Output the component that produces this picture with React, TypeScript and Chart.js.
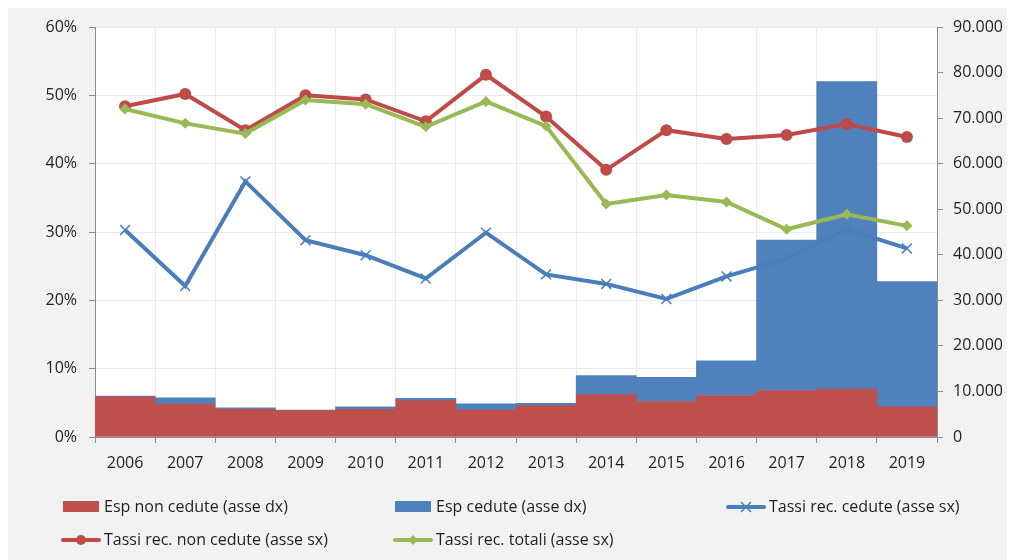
import React, { useEffect, useRef } from "react";
import { Chart, registerables } from "chart.js";

Chart.register(...registerables);

const years = ["2006", "2007", "2008", "2009", "2010", "2011", "2012", "2013", "2014", "2015", "2016", "2017", "2018", "2019"];

// right axis (stacked bars)
const espNonCedute = [8800, 7200, 6100, 5800, 6100, 8000, 5900, 6900, 9300, 7800, 9100, 10200, 10500, 6600];
const espCedute = [200, 1400, 300, 100, 500, 500, 1400, 500, 4200, 5300, 7600, 33000, 67500, 27500];

// left axis (rates, %)
const tassiCedute = [30.3, 22.1, 37.4, 28.8, 26.6, 23.2, 29.9, 23.8, 22.4, 20.2, 23.5, 26.1, 30.4, 27.6];
const tassiNonCedute = [48.4, 50.2, 44.9, 50.0, 49.4, 46.2, 53.0, 46.9, 39.1, 44.9, 43.6, 44.2, 45.8, 43.9];
const tassiTotali = [48.0, 45.9, 44.4, 49.3, 48.7, 45.4, 49.1, 45.5, 34.1, 35.4, 34.4, 30.4, 32.6, 30.9];

const labels = [
  "Esp non cedute (asse dx)",
  "Esp cedute (asse dx)",
  "Tassi rec. cedute (asse sx)",
  "Tassi rec. non cedute (asse sx)",
  "Tassi rec. totali (asse sx)",
];

const FONT = "'Open Sans', sans-serif";
const FSIZE = 16;
const TEXT = "#1f1f1f";
const AXIS = "#8c8c8c";
const GRID = "#ebebeb";

const bgPlugin = {
  id: "bg",
  beforeDraw(chart: any) {
    const { ctx, chartArea, width, height } = chart;
    ctx.save();
    ctx.fillStyle = "#f2f2f2";
    ctx.fillRect(0, 0, width, height);
    ctx.fillStyle = "#ffffff";
    ctx.fillRect(chartArea.left, chartArea.top, chartArea.right - chartArea.left, chartArea.bottom - chartArea.top);
    ctx.restore();
  },
};

const legendPlugin = {
  id: "gridLegend",
  afterDraw(chart: any) {
    const { ctx } = chart;
    const colX = [53, 385, 718];
    const rowY = [499, 532];
    ctx.save();
    ctx.font = `${FSIZE}px ${FONT}`;
    ctx.textBaseline = "middle";
    ctx.textAlign = "left";
    chart.data.datasets.forEach((ds: any, i: number) => {
      const x = colX[i % 3];
      const y = rowY[Math.floor(i / 3)];
      if (ds.type === "bar") {
        ctx.fillStyle = ds.backgroundColor;
        ctx.fillRect(x + 2, y - 6, 36, 11);
      } else {
        ctx.strokeStyle = ds.borderColor;
        ctx.lineWidth = 4;
        ctx.lineCap = "round";
        ctx.beginPath();
        ctx.moveTo(x + 2, y);
        ctx.lineTo(x + 38, y);
        ctx.stroke();
        const cx = x + 20;
        ctx.fillStyle = ds.borderColor;
        if (ds.pointStyle === "circle") {
          ctx.beginPath();
          ctx.arc(cx, y, 5, 0, Math.PI * 2);
          ctx.fill();
        } else if (ds.pointStyle === "rectRot") {
          ctx.beginPath();
          ctx.moveTo(cx, y - 5);
          ctx.lineTo(cx + 5, y);
          ctx.lineTo(cx, y + 5);
          ctx.lineTo(cx - 5, y);
          ctx.closePath();
          ctx.fill();
        } else {
          ctx.lineWidth = 1.5;
          ctx.lineCap = "butt";
          ctx.beginPath();
          ctx.moveTo(cx - 5, y - 5);
          ctx.lineTo(cx + 5, y + 5);
          ctx.moveTo(cx + 5, y - 5);
          ctx.lineTo(cx - 5, y + 5);
          ctx.stroke();
        }
      }
      ctx.fillStyle = TEXT;
      ctx.fillText(ds.label, x + 43, y);
    });
    ctx.restore();
  },
};

const zeroPad = (s: any) => {
  s.paddingTop = 0;
  s.paddingBottom = 0;
  s.paddingLeft = 0;
  s.paddingRight = 0;
};

export default function App() {
  const ref = useRef<HTMLCanvasElement>(null);

  useEffect(() => {
    if (!ref.current) return;
    const chart = new Chart(ref.current, {
      data: {
        labels: years,
        datasets: [
          {
            type: "bar",
            label: labels[0],
            data: espNonCedute,
            backgroundColor: "#c0504d",
            yAxisID: "y1",
            order: 2,
            barPercentage: 1,
            categoryPercentage: 1,
            borderWidth: 0,
          },
          {
            type: "bar",
            label: labels[1],
            data: espCedute,
            backgroundColor: "#4f81bd",
            yAxisID: "y1",
            order: 2,
            barPercentage: 1,
            categoryPercentage: 1,
            borderWidth: 0,
          },
          {
            type: "line",
            label: labels[2],
            data: tassiCedute,
            borderColor: "#4a7ebb",
            backgroundColor: "#4a7ebb",
            borderWidth: 4,
            pointStyle: "crossRot",
            pointRadius: 7,
            pointBorderWidth: 1.5,
            pointBorderColor: "#4a7ebb",
            yAxisID: "y",
            order: 1,
            tension: 0,
          },
          {
            type: "line",
            label: labels[3],
            data: tassiNonCedute,
            borderColor: "#be4b48",
            backgroundColor: "#be4b48",
            borderWidth: 4,
            pointStyle: "circle",
            pointRadius: 6,
            pointBorderWidth: 0,
            yAxisID: "y",
            order: 1,
            tension: 0,
          },
          {
            type: "line",
            label: labels[4],
            data: tassiTotali,
            borderColor: "#98b954",
            backgroundColor: "#98b954",
            borderWidth: 4,
            pointStyle: "rectRot",
            pointRadius: 5.5,
            pointBorderWidth: 0,
            yAxisID: "y",
            order: 0,
            tension: 0,
          },
        ] as any,
      },
      options: {
        responsive: false,
        animation: false,
        layout: { padding: { top: 19, bottom: 83, left: 0, right: 0 } },
        plugins: { legend: { display: false }, tooltip: { enabled: false } },
        scales: {
          x: {
            stacked: true,
            offset: true,
            grid: { color: GRID, offset: true, tickColor: AXIS, tickLength: 6, drawTicks: true },
            border: { color: AXIS, width: 1 },
            ticks: { color: TEXT, font: { family: FONT, size: FSIZE }, padding: 11, maxRotation: 0 },
            afterFit: (s: any) => {
              s.height = 40;
              zeroPad(s);
            },
          },
          y: {
            position: "left",
            min: 0,
            max: 60,
            stacked: false,
            grid: { color: GRID, tickColor: AXIS, tickLength: 6 },
            border: { color: AXIS, width: 1 },
            ticks: {
              stepSize: 10,
              color: TEXT,
              font: { family: FONT, size: FSIZE },
              padding: 12,
              callback: (v: any) => `${v}%`,
            },
            afterFit: (s: any) => {
              s.width = 87;
              zeroPad(s);
            },
          },
          y1: {
            position: "right",
            min: 0,
            max: 90000,
            stacked: true,
            grid: { drawOnChartArea: false, tickColor: AXIS, tickLength: 6 },
            border: { color: AXIS, width: 1 },
            ticks: {
              stepSize: 10000,
              color: TEXT,
              font: { family: FONT, size: FSIZE },
              padding: 10,
              callback: (v: any) => (v === 0 ? "0" : (v / 1000).toFixed(0) + ".000"),
            },
            afterFit: (s: any) => {
              s.width = 70;
              zeroPad(s);
            },
          },
        },
      } as any,
      plugins: [bgPlugin, legendPlugin],
    });
    return () => chart.destroy();
  }, []);

  return <canvas ref={ref} width={999} height={552} style={{ display: "block" }} />;
}
